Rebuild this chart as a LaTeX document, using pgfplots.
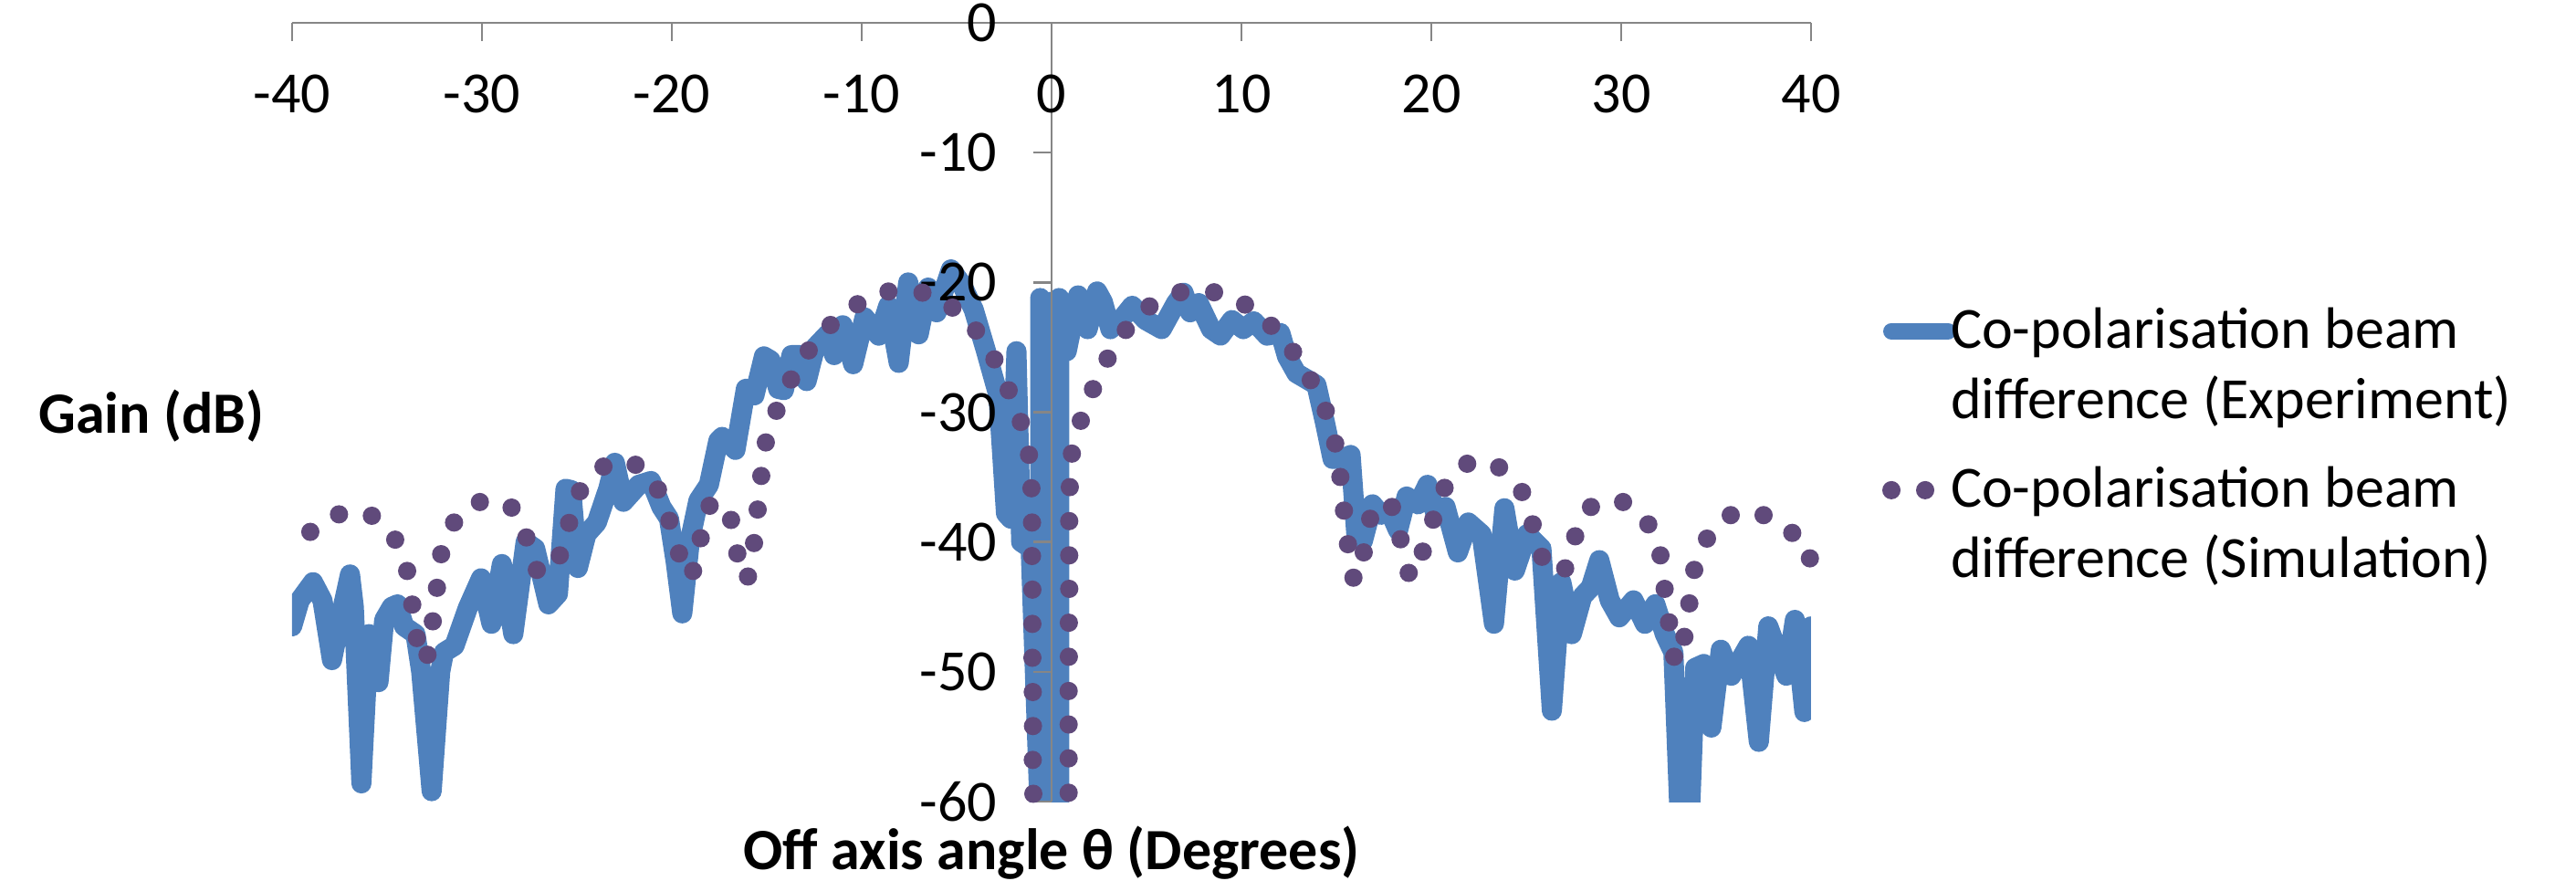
\documentclass[border=0pt]{standalone}
\usepackage{fontspec}
\setmainfont{Carlito}
\usepackage{pgfplots}
\pgfplotsset{compat=1.18}
\definecolor{expblue}{HTML}{4F81BD}
\definecolor{simpurple}{HTML}{604A7B}
\definecolor{axgray}{HTML}{868686}
\begin{document}
\begin{tikzpicture}[font=\fontsize{16}{19.2}\selectfont]
\begin{axis}[
  at={(0,0)}, anchor=south west,
  scale only axis, width=416pt, height=213.25pt,
  xmin=-40, xmax=40, ymin=-60, ymax=0,
  axis lines=middle,
  axis line style={draw=axgray, line width=0.6pt, -},
  xtick={-40,-30,...,40}, ytick={-60,-50,...,0},
  hide obscured x ticks=false, hide obscured y ticks=false,
  tick style={draw=axgray, line width=0.6pt},
  major tick length=5pt, tick align=outside,
  /pgf/number format/assume math mode=true,
  xticklabel style={anchor=base, inner sep=0pt, yshift=-19.5pt, font=\fontsize{16}{19.2}\selectfont},
  yticklabel style={anchor=east, inner sep=0pt, xshift=-9.75pt, font=\fontsize{16}{19.2}\selectfont},
  xlabel={\bfseries Off axis angle θ (Degrees)},
  xlabel style={at={(rel axis cs:0.5,0)}, anchor=base, yshift=-18.5pt, inner sep=0pt},
  ylabel={\bfseries Gain (dB)},
  ylabel style={at={(rel axis cs:0,0)}, anchor=base, xshift=-38.5pt, yshift=100.75pt, inner sep=0pt},
  axis on top,
  legend style={draw=none, fill=none, at={(rel axis cs:1.0409,0.6448)}, anchor=north west,
    inner sep=0pt, outer sep=0pt, row sep=27.35pt, column sep=0pt,
    cells={anchor=base west}, nodes={inner sep=0pt}, font=\fontsize{16}{19.2}\selectfont},
]
\addplot[expblue, line width=5.5pt, line join=round, line cap=round,
  legend image code/.code={\draw[expblue, line width=4.5pt, line cap=round] (2.25pt,4.75pt) -- (17.75pt,4.75pt); \path (0pt,0pt) (20.75pt,0pt);}]
table {
-40.0 -46.5
-39.6 -44.5
-38.9 -43.1
-38.4 -44.5
-37.9 -49.1
-37.4 -45.5
-36.95 -42.5
-36.75 -45
-36.35 -58.6
-35.95 -47.1
-35.7 -47.5
-35.45 -50.8
-35.15 -46.0
-34.75 -45.0
-34.45 -44.8
-34.1 -46.5
-33.5 -47.1
-33.2 -50
-32.65 -59.2
-32.2 -50
-32.0 -48.5
-31.45 -48.0
-30.75 -45.1
-30.05 -42.8
-29.5 -46.3
-28.95 -41.7
-28.35 -47.1
-27.7 -40.0
-27.2 -40.5
-26.5 -44.8
-26.0 -44.0
-25.6 -35.9
-25.3 -36.0
-24.95 -42.0
-24.5 -39.4
-23.95 -38.5
-23.35 -35.9
-23.0 -33.9
-22.55 -36.9
-21.75 -35.6
-21.1 -35.3
-20.55 -37.3
-20.15 -38.2
-19.8 -41.5
-19.45 -45.5
-19.05 -39.9
-18.6 -36.8
-18.05 -35.6
-17.55 -32.2
-17.35 -31.9
-16.65 -32.9
-16.1 -28.2
-15.65 -28.7
-15.15 -25.7
-14.8 -26.0
-14.4 -28.2
-14.1 -28.3
-13.7 -25.6
-13.25 -25.6
-12.9 -27.6
-12.45 -25.0
-11.8 -24.0
-11.45 -25.6
-11.0 -23.3
-10.45 -26.3
-9.85 -22.7
-9.1 -24.1
-8.6 -21.8
-8.05 -26.2
-7.55 -20.0
-7.0 -24.0
-6.5 -20.4
-6.05 -22.3
-5.3 -19.0
-4.75 -20.1
-4.1 -22.1
-3.45 -25.3
-2.8 -28.7
-2.4 -37.8
-2.15 -38.2
-1.85 -25.3
-1.6 -40.0
-1.1 -40.5
-0.6 -62
-0.6 -21.2
-0.35 -62
-0.1 -21.5
0.15 -62
0.4 -62
0.4 -21.2
0.8 -25.3
1.4 -21.0
1.9 -23.6
2.4 -20.7
2.7 -21.5
3.1 -23.6
3.75 -22.7
4.25 -21.8
4.95 -22.9
5.8 -23.6
6.55 -21.6
6.95 -20.8
7.3 -22.3
7.75 -21.6
8.4 -23.6
8.9 -24.1
9.5 -22.9
10.1 -23.6
10.65 -23.0
11.35 -24.1
12.05 -23.9
12.4 -25.7
12.9 -27.0
13.6 -27.6
13.95 -27.9
14.4 -30.8
14.8 -33.6
15.3 -33.6
15.75 -33.3
16.05 -39.4
16.4 -39.9
16.9 -37.1
17.35 -37.9
17.8 -37.6
18.25 -39.1
18.7 -36.5
19.3 -37.1
19.8 -35.6
20.25 -38.0
20.75 -37.3
21.4 -40.8
21.95 -38.5
22.65 -39.4
23.3 -46.3
23.85 -37.4
24.4 -42.2
25.05 -39.4
25.8 -40.5
26.35 -53.0
26.85 -43.1
27.4 -47.1
27.95 -44.2
28.4 -43.5
28.85 -41.4
29.4 -44.5
29.9 -45.8
30.65 -44.5
31.25 -46.3
31.8 -44.8
32.3 -47.1
32.75 -48.5
33.1 -62
33.6 -62
33.9 -49.7
34.35 -49.4
34.75 -54.3
35.25 -48.3
35.8 -50.3
36.7 -48.0
37.25 -55.4
37.75 -46.5
38.7 -50.3
39.15 -46.0
39.65 -53.1
40.0 -46.5
};
\addlegendentry{\hspace*{-5pt}\begin{tabular}[t]{@{}l@{}}Co-polarisation beam\\difference (Experiment)\end{tabular}}
\addplot[only marks, mark=*, mark size=2.3pt, color=simpurple, mark options={draw=none, fill=simpurple},
  legend image code/.code={\fill[simpurple] (2.25pt,4.75pt) circle (2.3pt); \fill[simpurple] (11.5pt,4.75pt) circle (2.3pt); \path (0pt,0pt) (20.75pt,0pt);}]
table {
-40.19 -41.23
-39.04 -39.22
-37.53 -37.87
-35.80 -37.98
-34.57 -39.82
-33.94 -42.23
-33.67 -44.82
-33.43 -47.40
-32.87 -48.69
-32.59 -46.11
-32.37 -43.53
-32.15 -40.94
-31.47 -38.50
-30.11 -36.92
-28.44 -37.35
-27.66 -39.65
-27.11 -42.15
-25.90 -41.03
-25.41 -38.53
-24.84 -36.09
-23.60 -34.19
-21.91 -34.05
-20.73 -35.96
-20.13 -38.36
-19.62 -40.88
-18.88 -42.23
-18.48 -39.71
-18.01 -37.21
-16.88 -38.30
-16.55 -40.88
-15.99 -42.66
-15.67 -40.08
-15.48 -37.50
-15.29 -34.91
-15.05 -32.33
-14.49 -29.89
-13.72 -27.48
-12.79 -25.24
-11.64 -23.28
-10.22 -21.68
-8.59 -20.70
-6.80 -20.79
-5.22 -21.94
-3.98 -23.71
-3.01 -25.93
-2.26 -28.31
-1.62 -30.75
-1.19 -33.28
-1.06 -35.86
-1.03 -38.50
-1.03 -41.08
-1.01 -43.67
-1.01 -46.31
-1.01 -48.92
-0.99 -51.56
-0.98 -54.18
-0.99 -56.79
-0.96 -59.40
0.90 -59.32
0.90 -56.67
0.90 -54.06
0.90 -51.48
0.91 -48.84
0.91 -46.22
0.93 -43.61
0.93 -41.03
0.93 -38.39
0.96 -35.77
1.07 -33.19
1.54 -30.66
2.18 -28.22
2.95 -25.87
3.91 -23.66
5.16 -21.85
6.79 -20.76
8.56 -20.76
10.19 -21.71
11.57 -23.34
12.72 -25.35
13.65 -27.53
14.44 -29.89
14.94 -32.41
15.21 -34.99
15.40 -37.58
15.61 -40.17
15.90 -42.75
16.44 -40.80
16.78 -38.21
17.93 -37.30
18.38 -39.79
18.81 -42.38
19.55 -40.74
20.10 -38.28
20.70 -35.83
21.89 -33.97
23.57 -34.25
24.78 -36.15
25.34 -38.64
25.83 -41.14
27.05 -42.03
27.58 -39.56
28.41 -37.30
30.10 -36.92
31.43 -38.64
32.07 -41.03
32.29 -43.61
32.52 -46.19
32.79 -48.84
33.33 -47.31
33.59 -44.73
33.85 -42.15
34.52 -39.74
35.77 -37.93
37.50 -37.93
39.01 -39.30
39.94 -41.26
};
\addlegendentry{\hspace*{-5pt}\begin{tabular}[t]{@{}l@{}}Co-polarisation beam\\difference (Simulation)\end{tabular}}
\end{axis}
\pgfresetboundingbox
\path (-80pt,-21.5pt) rectangle (625.5pt,219.5pt);
\end{tikzpicture}
\end{document}
